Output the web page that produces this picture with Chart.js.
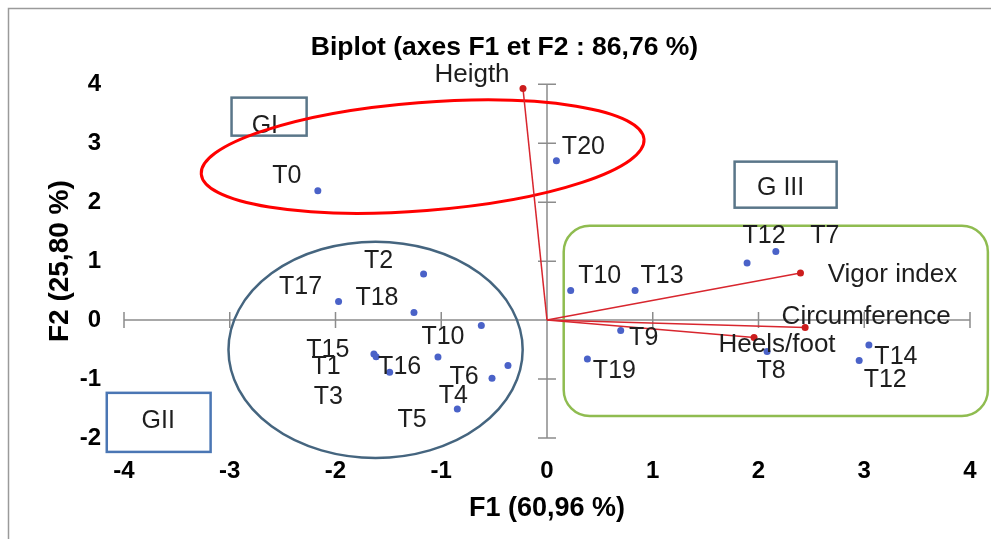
<!DOCTYPE html>
<html>
<head>
<meta charset="utf-8">
<script src="https://cdn.jsdelivr.net/npm/chart.js@4.4.1/dist/chart.umd.min.js"></script>
<style>
  html, body { margin: 0; padding: 0; background: #ffffff; }
  #wrap { width: 991px; height: 539px; position: relative; }
</style>
</head>
<body>
<div id="wrap"><canvas id="c" width="991" height="539"></canvas></div>
<script>
// ---- Data ----
const categories = ['T0','T20','T12','T7','T10','T13','T9','T19','T8','T14','T12','T2','T17','T18','T10','T15','T1','T16','T3','T6','T4','T5'];
const f1Values = [-2.167, 0.089, 1.892, 2.164, 0.224, 0.833, 0.697, 0.382, 2.081, 3.044, 2.952, -1.167, -1.971, -1.258, -1.031, -1.637, -1.616, -1.488, -0.621, -0.520, -0.848, -0.369];
const f2Values = [2.195, 2.705, 0.968, 1.165, 0.503, 0.503, -0.177, -0.662, -0.533, -0.424, -0.686, 0.781, 0.316, 0.129, -0.628, -0.577, -0.623, -0.883, -0.092, -0.985, -1.506, -0.771];

const variables = ['Heigth', 'Vigor index', 'Circumference', 'Heels/foot'];
const varF1 = [-0.227, 2.397, 2.441, 1.958];
const varF2 = [3.927, 0.798, -0.126, -0.295];

const xTicks = [-4, -3, -2, -1, 0, 1, 2, 3, 4];
const yTicks = [-2, -1, 0, 1, 2, 3, 4];

const titleText = 'Biplot (axes F1 et F2 : 86,76 %)';
const xTitle = 'F1 (60,96 %)';
const yTitle = 'F2 (25,80 %)';

const groupNames = ['GI', 'G III', 'GII'];

// ---- Styling / label placement (pixels, not data) ----
const pointLabelOffsets = [[-31,-15],[27,-14],[17,-27],[49,-15],[29,-14],[27,-14],[23,8],[27,12],[4,20],[27,12],[26,20],[-45,-13],[-38,-14],[-37,-14],[5,-20],[-46,-4],[-50,10],[10,-5],[-153,72],[-28,-1],[-4,-13],[-96,55]];
const varLabelOffsets = [[-51,-14],[92,2],[61,-11],[23,7]];

// decorative group outlines, expressed in axis units
const shapes = {
  redEllipse:  { cx: -1.176, cy: 2.773, rx: 2.10, ry: 0.917, rot: -4.5, color: '#ff0000', width: 3 },
  blueEllipse: { cx: -1.621, cy: -0.504, rx: 1.391, ry: 1.834, rot: 0, color: '#45657f', width: 2.5 },
  greenRect:   { x1: 0.158, x2: 4.169, y1: 1.601, y2: -1.625, radius: 26, color: '#8fbc50', width: 2.5 },
  boxes: [
    { x1: -2.983, x2: -2.273, y1: 3.774, y2: 3.129, tx: -2.668, ty: 3.299, color: '#5a7689' },
    { x1: 1.774, x2: 2.739, y1: 2.688, y2: 1.907, tx: 2.209, ty: 2.246, color: '#5a7689' },
    { x1: -4.163, x2: -3.181, y1: -1.234, y2: -2.236, tx: -3.676, ty: -1.710, color: '#4a76b4' }
  ]
};

const FONT = "'Liberation Sans', Arial, sans-serif";
Chart.defaults.font.family = FONT;
Chart.defaults.color = '#000';

const pointData = f1Values.map((v, i) => ({ x: v, y: f2Values[i] }));
const vectorSets = variables.map((name, i) => ({
  label: name,
  type: 'line',
  data: [{ x: 0, y: 0 }, { x: varF1[i], y: varF2[i] }],
  borderColor: '#d8262e',
  borderWidth: 1.5,
  pointRadius: [0, 3.5],
  pointBackgroundColor: '#cc1d1d',
  pointBorderWidth: 0,
  showLine: true,
  fill: false,
  order: 2
}));

const framePlugin = {
  id: 'frame',
  beforeDraw(chart) {
    const ctx = chart.ctx;
    ctx.save();
    ctx.fillStyle = '#ffffff';
    ctx.fillRect(0, 0, chart.width, chart.height);
    ctx.strokeStyle = '#9a9a9a';
    ctx.lineWidth = 1.5;
    ctx.beginPath();
    ctx.moveTo(8.5, chart.height);
    ctx.lineTo(8.5, 8.5);
    ctx.lineTo(chart.width, 8.5);
    ctx.stroke();
    ctx.restore();
  }
};

function rr(ctx, x, y, w, h, r) {
  ctx.beginPath();
  ctx.moveTo(x + r, y);
  ctx.lineTo(x + w - r, y);
  ctx.arcTo(x + w, y, x + w, y + r, r);
  ctx.lineTo(x + w, y + h - r);
  ctx.arcTo(x + w, y + h, x + w - r, y + h, r);
  ctx.lineTo(x + r, y + h);
  ctx.arcTo(x, y + h, x, y + h - r, r);
  ctx.lineTo(x, y + r);
  ctx.arcTo(x, y, x + r, y, r);
  ctx.closePath();
}

const decorPlugin = {
  id: 'decor',
  beforeDatasetsDraw(chart) {
    const ctx = chart.ctx;
    const xs = chart.scales.x, ys = chart.scales.y;
    const px = v => xs.getPixelForValue(v);
    const py = v => ys.getPixelForValue(v);
    const ux = Math.abs(px(1) - px(0));
    const uy = Math.abs(py(1) - py(0));
    ctx.save();

    // crossing axes through the origin
    ctx.strokeStyle = '#8c8c8c';
    ctx.lineWidth = 1.5;
    ctx.beginPath();
    ctx.moveTo(px(xTicks[0]), py(0));
    ctx.lineTo(px(xTicks[xTicks.length - 1]), py(0));
    ctx.moveTo(px(0), py(yTicks[0]));
    ctx.lineTo(px(0), py(yTicks[yTicks.length - 1]));
    xTicks.forEach(t => { ctx.moveTo(px(t), py(0) - 8); ctx.lineTo(px(t), py(0) + 8); });
    yTicks.forEach(t => { ctx.moveTo(px(0) - 9, py(t)); ctx.lineTo(px(0) + 9, py(t)); });
    ctx.stroke();

    // group boxes
    ctx.font = '25px ' + FONT;
    ctx.textAlign = 'center';
    ctx.textBaseline = 'middle';
    shapes.boxes.forEach((b, i) => {
      const x1 = px(b.x1), x2 = px(b.x2), y1 = py(b.y1), y2 = py(b.y2);
      ctx.fillStyle = '#ffffff';
      ctx.fillRect(x1, y1, x2 - x1, y2 - y1);
      ctx.strokeStyle = b.color;
      ctx.lineWidth = 2.5;
      ctx.strokeRect(x1, y1, x2 - x1, y2 - y1);
      ctx.fillStyle = '#1e1e1e';
      ctx.fillText(groupNames[i], px(b.tx), py(b.ty));
    });

    // green rounded rectangle
    const g = shapes.greenRect;
    ctx.strokeStyle = g.color;
    ctx.lineWidth = g.width;
    rr(ctx, px(g.x1), py(g.y1), px(g.x2) - px(g.x1), py(g.y2) - py(g.y1), g.radius);
    ctx.stroke();

    // ellipses
    [shapes.blueEllipse, shapes.redEllipse].forEach(e => {
      ctx.strokeStyle = e.color;
      ctx.lineWidth = e.width;
      ctx.beginPath();
      ctx.ellipse(px(e.cx), py(e.cy), e.rx * ux, e.ry * uy, e.rot * Math.PI / 180, 0, Math.PI * 2);
      ctx.stroke();
    });
    ctx.restore();
  },
  afterDatasetsDraw(chart) {
    const ctx = chart.ctx;
    ctx.save();
    ctx.fillStyle = '#1e1e1e';
    ctx.textAlign = 'center';
    ctx.textBaseline = 'middle';
    ctx.font = '25px ' + FONT;
    const pm = chart.getDatasetMeta(chart.data.datasets.length - 1);
    pm.data.forEach((el, i) => {
      const o = pointLabelOffsets[i];
      ctx.fillText(categories[i], el.x + o[0], el.y + o[1]);
    });
    ctx.font = '26px ' + FONT;
    variables.forEach((name, i) => {
      const el = chart.getDatasetMeta(i).data[1];
      const o = varLabelOffsets[i];
      ctx.fillText(name, el.x + o[0], el.y + o[1]);
    });
    ctx.restore();
  }
};

new Chart(document.getElementById('c'), {
  type: 'scatter',
  data: {
    datasets: [
      ...vectorSets,
      {
        label: 'Observations',
        data: pointData,
        backgroundColor: '#4a62c8',
        pointRadius: 3.5,
        pointBorderWidth: 0,
        order: 1
      }
    ]
  },
  options: {
    responsive: false,
    animation: false,
    layout: { padding: { left: 39, right: 21, top: 0, bottom: 10 } },
    plugins: {
      legend: { display: false },
      tooltip: { enabled: false },
      title: {
        display: true,
        text: titleText,
        color: '#000',
        font: { size: 26.5, weight: 'bold', family: FONT },
        padding: { top: 31.5, bottom: 21 }
      }
    },
    scales: {
      x: {
        type: 'linear',
        min: xTicks[0],
        max: xTicks[xTicks.length - 1],
        afterBuildTicks: s => { s.ticks = xTicks.map(v => ({ value: v })); },
        afterFit: s => { s.height = 91; s.paddingLeft = 0; s.paddingRight = 10; },
        grid: { display: false, drawTicks: false },
        border: { display: false },
        ticks: { color: '#000', font: { size: 24, weight: 'bold' }, padding: 19, maxRotation: 0 },
        title: { display: true, text: xTitle, color: '#000', font: { size: 27, weight: 'bold' } }
      },
      y: {
        type: 'linear',
        min: yTicks[0],
        max: yTicks[yTicks.length - 1],
        afterBuildTicks: s => { s.ticks = yTicks.map(v => ({ value: v })); },
        afterFit: s => { s.width = 85; },
        grid: { display: false, drawTicks: false },
        border: { display: false },
        ticks: { color: '#000', font: { size: 24, weight: 'bold' }, padding: 23 },
        title: { display: true, text: yTitle, color: '#000', font: { size: 28, weight: 'bold' } }
      }
    }
  },
  plugins: [framePlugin, decorPlugin]
});
</script>
</body>
</html>
